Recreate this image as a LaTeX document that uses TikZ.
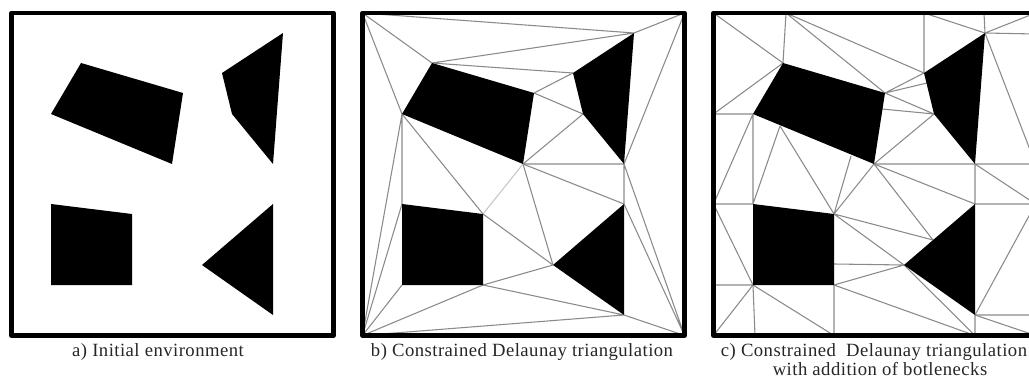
\documentclass[tikz,border=0pt]{standalone}
\usepackage{fontspec}
\setmainfont[LetterSpace=2.5]{Liberation Serif}
\usetikzlibrary{positioning}
\definecolor{grisArista}{HTML}{8A8A8A}
\definecolor{grisClaro}{HTML}{C4C4C4}
% obstacle and frame vertices of one panel
\newcommand{\vertices}{
    \coordinate (r1) at (81,63);
    \coordinate (r2) at (183,93);
    \coordinate (r3) at (172,164);
    \coordinate (r4) at (51,114);
    \coordinate (q1) at (283,33);
    \coordinate (q2) at (273,164);
    \coordinate (q3) at (232,114);
    \coordinate (q4) at (222,73);
    \coordinate (s1) at (51,204);
    \coordinate (s2) at (132,214);
    \coordinate (s3) at (132,285);
    \coordinate (s4) at (51,285);
    \coordinate (t1) at (273,204);
    \coordinate (t2) at (273,315);
    \coordinate (t3) at (202,265);
    \coordinate (c1) at (11.5,13);
    \coordinate (c2) at (333.5,13);
    \coordinate (c3) at (333.5,335.5);
    \coordinate (c4) at (11.5,335.5);
}
\newcommand{\obstaculos}{
    \fill[obst] (r1) -- (r2) -- (r3) -- (r4) -- cycle;
    \fill[obst] (q1) -- (q2) -- (q3) -- (q4) -- cycle;
    \fill[obst] (s1) -- (s2) -- (s3) -- (s4) -- cycle;
    \fill[obst] (t1) -- (t2) -- (t3) -- cycle;
    \draw[marco] (c1) -- (c2) -- (c3) -- (c4) -- cycle;
}
\begin{document}
\begin{tikzpicture}[
        x=0.75pt, y=-0.75pt,
        obst/.style={fill=black},
        marco/.style={draw=black, line width=3.2pt, line join=round},
        tri/.style={draw=grisArista, line width=0.8pt},
        triclaro/.style={draw=grisClaro, line width=0.8pt},
        pie/.style={font=\fontsize{14pt}{13.9pt}\selectfont, align=center, text=black!85, inner sep=0pt, anchor=base}
    ]
    \useasboundingbox (0,0) rectangle (1029,378);
    \clip (0,0) rectangle (1029,378);

    % a) empty environment
    \begin{scope}[name prefix=a]
        \vertices
        \obstaculos
        \path (158,356.5) node[pie] (piea) {a) Initial environment};
    \end{scope}

    % b) triangulation
    \begin{scope}[shift={(351,0)}, name prefix=b]
        \vertices
        \draw[tri] (c1) -- (q1) (c2) -- (q1) (c1) -- (r1) (c1) -- (r4) (r1) -- (q1) (r1) -- (q4);
        \draw[tri] (r2) -- (q4) (r2) -- (q3) (r3) -- (q3) (r3) -- (q2) (q2) -- (c2);
        \draw[tri] (r4) -- (s1) (r4) -- (c4) (r4) -- (s2) (r3) -- (t3) (r3) -- (t1);
        \draw[tri] (q2) -- (t1) (q2) -- (c3) (t1) -- (c3);
        \draw[tri] (s1) -- (c4) (s4) -- (c4) (s3) -- (c4) (s2) -- (t3) (s3) -- (t3);
        \draw[tri] (s3) -- (t2) (t2) -- (c4) (t2) -- (c3);
        \draw[triclaro] (r3) -- (s2);
        \obstaculos
        \path (171,356.5) node[pie] (pieb) {b) Constrained Delaunay triangulation};
    \end{scope}

    % c) triangulation with bottlenecks
    \begin{scope}[shift={(702,0)}, name prefix=c]
        \vertices
        \coordinate (ta) at (84,13);
        \coordinate (tb) at (222,13);
        \coordinate (tc) at (282,13);
        \coordinate (de) at (333.5,34);
        \coordinate (df) at (333.5,164);
        \coordinate (dg) at (333.5,204);
        \coordinate (dh) at (333.5,315);
        \coordinate (ba) at (53,335.5);
        \coordinate (bb) at (132,335.5);
        \coordinate (bc) at (273,335.5);
        \coordinate (ia) at (11.5,114);
        \coordinate (ib) at (11.5,204);
        \coordinate (ic) at (11.5,285);
        \coordinate (oa) at (78,126);
        \coordinate (ob) at (149,156);
        \coordinate (oc) at (231,240);
        \coordinate (od) at (225,83);
        \coordinate (oe) at (180,109);
        \coordinate (of) at (132,264);
        \draw[tri] (c1) -- (r1) (ta) -- (r1) (ta) -- (r2) (ta) -- (q4) (tb) -- (q4) (tb) -- (q1);
        \draw[tri] (tc) -- (q1) (c2) -- (q1) (de) -- (q1) (df) -- (q1) (ia) -- (r1) (ia) -- (r4);
        \draw[tri] (r2) -- (q4) (r2) -- (od) (r2) -- (q3) (oe) -- (q3) (r3) -- (q3) (r3) -- (q2);
        \draw[tri] (q2) -- (df) (q2) -- (dg) (q2) -- (t1) (t1) -- (dg) (t2) -- (dg) (t2) -- (dh);
        \draw[tri] (t2) -- (c3) (t2) -- (bc) (r4) -- (s1) (r4) -- (ib) (oa) -- (s1) (oa) -- (s2);
        \draw[tri] (ob) -- (s2) (r3) -- (s2) (r3) -- (oc) (r3) -- (t1) (oc) -- (s2) (s2) -- (t3);
        \draw[tri] (of) -- (t3) (s3) -- (t3) (s3) -- (bc) (t3) -- (bc) (s3) -- (bb) (s4) -- (ba);
        \draw[tri] (s4) -- (bb) (s4) -- (c4) (s4) -- (ic) (ib) -- (s1) (ib) -- (s4);
        \obstaculos
        \path (178,375) node[pie] (piec) {c) Constrained\ \ Delaunay triangulation\hspace*{9pt}\\with addition of botlenecks};
    \end{scope}
\end{tikzpicture}
\end{document}
